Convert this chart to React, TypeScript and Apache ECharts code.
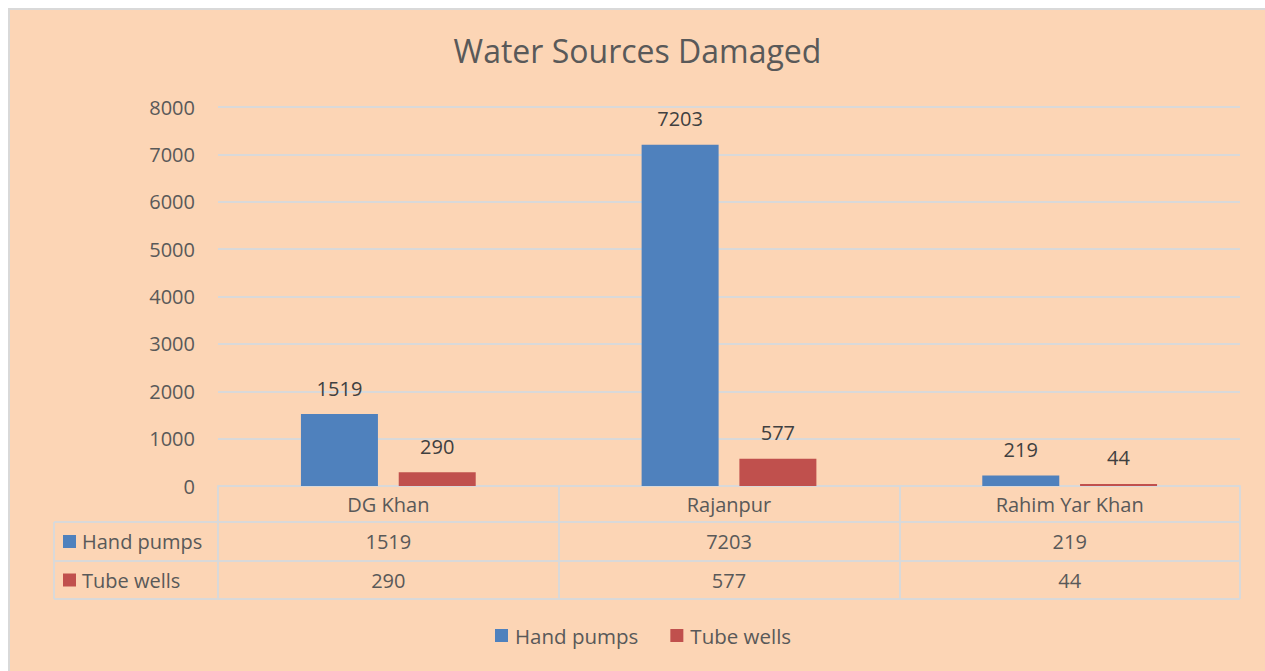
import React, { useEffect, useRef } from "react";
import * as echarts from "echarts";

const categories = ["DG Khan", "Rajanpur", "Rahim Yar Khan"];
const seriesNames = ["Hand pumps", "Tube wells"];
const handPumps = [1519, 7203, 219];
const tubeWells = [290, 577, 44];
const yMin = 0;
const yMax = 8000;
const yStep = 1000;

const COLORS = ["#4F81BD", "#C0504D"];
const GRID_LINE = "#D9D9D9";
const TEXT = "#595959";
const FONT = "'Open Sans', Lato, sans-serif";

export default function App() {
  const ref = useRef<HTMLDivElement>(null);
  useEffect(() => {
    if (!ref.current) return;
    const chart = echarts.init(ref.current, undefined, { renderer: "svg" });
    const seriesData = [handPumps, tubeWells];
    const gridLeft = 208;
    const gridRight = 25;
    const gridTop = 97;
    const gridBottom = 185;
    const option: any = {
      animation: false,
      backgroundColor: "#FCD5B5",
      textStyle: { fontFamily: FONT },
      title: {
        text: "Water Sources Damaged",
        left: "center",
        top: 19,
        textStyle: { fontFamily: FONT, fontSize: 32, fontWeight: "normal", color: TEXT },
      },
      grid: { left: gridLeft, right: gridRight, top: gridTop, bottom: gridBottom, containLabel: false },
      legend: {
        data: seriesNames,
        bottom: 20,
        left: 480,
        icon: "rect",
        itemWidth: 13,
        itemHeight: 13,
        itemGap: 32,
        textStyle: { fontFamily: FONT, fontSize: 20.5, color: TEXT, padding: [0, 0, 0, 2] },
      },
      xAxis: {
        type: "category",
        data: categories,
        axisLine: { show: true, lineStyle: { color: GRID_LINE, width: 2 } },
        axisTick: { show: true, length: 113, lineStyle: { color: GRID_LINE, width: 2 } },
        axisLabel: { fontFamily: FONT, fontSize: 20, color: TEXT, margin: 8, lineHeight: 20 },
      },
      yAxis: {
        type: "value",
        min: yMin,
        max: yMax,
        interval: yStep,
        axisLine: { show: false },
        axisTick: { show: false },
        splitLine: { lineStyle: { color: GRID_LINE, width: 2 } },
        axisLabel: {
          fontFamily: FONT,
          fontSize: 20,
          color: TEXT,
          margin: 23,
          formatter: (v: number) => String(v),
        },
      },
      series: seriesNames.map((name, si) => ({
        name,
        type: "bar",
        data: seriesData[si],
        barWidth: "22.6%",
        barGap: "27%",
        itemStyle: { color: COLORS[si] },
        label: {
          show: true,
          position: "top",
          distance: 16,
          fontFamily: FONT,
          fontSize: 20,
          color: "#404040",
        },
      })),
    };
    chart.setOption(option);

    // Data table below the axis
    const chartW = chart.getWidth();
    const axisY = chart.getHeight() - gridBottom;
    const plotRight = chartW - gridRight;
    const tableLeft = 44;
    const rowLines = [axisY + 36, axisY + 75, axisY + 113];
    const graphics: any[] = [];
    rowLines.forEach((y) => {
      graphics.push({
        type: "line",
        shape: { x1: tableLeft, y1: y, x2: plotRight, y2: y },
        style: { stroke: GRID_LINE, lineWidth: 2 },
      });
    });
    graphics.push({
      type: "line",
      shape: { x1: tableLeft, y1: rowLines[0], x2: tableLeft, y2: rowLines[2] },
      style: { stroke: GRID_LINE, lineWidth: 2 },
    });
    seriesNames.forEach((name, si) => {
      const y0 = rowLines[si];
      const y1 = rowLines[si + 1];
      const cy = (y0 + y1) / 2;
      graphics.push({
        type: "rect",
        shape: { x: 53, y: cy - 6.5, width: 13, height: 13 },
        style: { fill: COLORS[si] },
      });
      graphics.push({
        type: "text",
        x: 72,
        y: cy,
        style: {
          text: name,
          fontFamily: FONT,
          fontSize: 20,
          fill: TEXT,
          verticalAlign: "middle",
          align: "left",
        },
      });
      seriesData[si].forEach((v, ci) => {
        const cx = chart.convertToPixel({ xAxisIndex: 0 }, ci) as number;
        graphics.push({
          type: "text",
          x: cx,
          y: cy,
          style: {
            text: String(v),
            fontFamily: FONT,
            fontSize: 20,
            fill: TEXT,
            verticalAlign: "middle",
            align: "center",
          },
        });
      });
    });
    chart.setOption({ graphic: graphics });

    return () => chart.dispose();
  }, []);
  return (
    <div
      style={{
        position: "fixed",
        left: 8,
        top: 8,
        width: 1257,
        height: 663,
        boxSizing: "border-box",
        borderTop: "2px solid #D9D9D9",
        borderLeft: "2px solid #D9D9D9",
        background: "#FCD5B5",
      }}
    >
      <div ref={ref} style={{ width: 1255, height: 661 }} />
    </div>
  );
}
